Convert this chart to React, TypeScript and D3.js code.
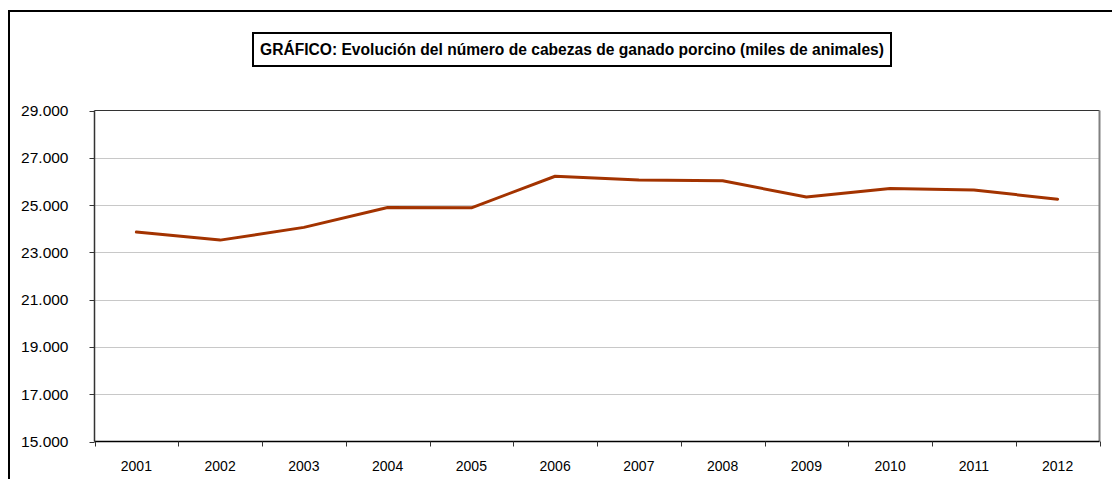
import React from "react";
import * as d3 from "d3";

const years = ["2001","2002","2003","2004","2005","2006","2007","2008","2009","2010","2011","2012"];
const heads = [23858, 23518, 24056, 24895, 24884, 26219, 26061, 26026, 25343, 25704, 25635, 25250];
const yTicks = [15000, 17000, 19000, 21000, 23000, 25000, 27000, 29000];
const title = "GRÁFICO: Evolución del número de cabezas de ganado porcino (miles de animales)";

const W = 1112, H = 479;
const plot = { left: 94.5, right: 1099.5, top: 110.5, bottom: 441.5 };

const fmtK = (v: number) => d3.format(",.0f")(v).replace(/,/g, ".");

export default function App() {
  const x = d3.scaleBand<string>().domain(years).range([plot.left, plot.right]);
  const y = d3.scaleLinear().domain([15000, 29000]).range([plot.bottom, plot.top]);
  const line = d3.line<number>()
    .x((_, i) => (x(years[i]) as number) + x.bandwidth() / 2)
    .y((d) => y(d));
  const boundaries = years.map((yr) => x(yr) as number).concat([plot.right]);
  return (
    <svg width={W} height={H} style={{ position: "absolute", left: 0, top: 0, fontFamily: "'Liberation Sans', Arial, sans-serif" }}>
      <rect x={0} y={0} width={W} height={H} fill="#fff" />
      <rect x={9} y={11} width={1110} height={480} fill="none" stroke="#000" strokeWidth={2} />
      <rect x={253} y={33} width={638} height={33} fill="#fff" stroke="#000" strokeWidth={2} />
      <text x={572} y={55} textAnchor="middle" fontSize={15.6} fontWeight="bold" fill="#000">{title}</text>
      {yTicks.slice(1, -1).map((t) => (
        <line key={t} x1={plot.left} x2={plot.right} y1={Math.round(y(t)) + 0.5} y2={Math.round(y(t)) + 0.5} stroke="#c8c8c8" strokeWidth={1} />
      ))}
      <line x1={plot.left} x2={plot.right} y1={plot.top} y2={plot.top} stroke="#333" strokeWidth={1} />
      <line x1={plot.right} x2={plot.right} y1={plot.top} y2={plot.bottom} stroke="#808080" strokeWidth={2} />
      <line x1={plot.left} x2={plot.left} y1={plot.top} y2={plot.bottom} stroke="#333" strokeWidth={1.5} />
      {yTicks.map((t) => (
        <g key={t}>
          <line x1={plot.left - 5} x2={plot.left} y1={Math.round(y(t)) + 0.5} y2={Math.round(y(t)) + 0.5} stroke="#333" strokeWidth={1} />
          <text x={68.5} y={y(t) + 5.5} textAnchor="end" fontSize={15.5} fill="#000">{fmtK(t)}</text>
        </g>
      ))}
      <line x1={plot.left} x2={plot.right} y1={plot.bottom} y2={plot.bottom} stroke="#000" strokeWidth={1.5} />
      {boundaries.map((b, i) => (
        <line key={i} x1={Math.round(b) + 0.5} x2={Math.round(b) + 0.5} y1={plot.bottom} y2={plot.bottom + 5} stroke="#333" strokeWidth={1} />
      ))}
      {years.map((yr) => (
        <text key={yr} x={(x(yr) as number) + x.bandwidth() / 2} y={470.5} textAnchor="middle" fontSize={14} fill="#000">{yr}</text>
      ))}
      <path d={line(heads) || ""} fill="none" stroke="#A33300" strokeWidth={3} strokeLinejoin="round" strokeLinecap="round" />
    </svg>
  );
}
